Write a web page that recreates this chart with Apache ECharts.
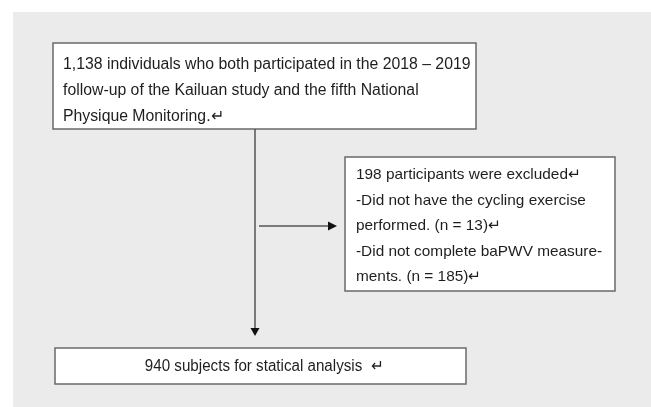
<!DOCTYPE html>
<html>
<head>
<meta charset="utf-8">
<script src="https://cdn.jsdelivr.net/npm/echarts@6/dist/echarts.min.js"></script>
<style>
html,body{margin:0;padding:0;background:#fff;}
#c{width:651px;height:407px;}
</style>
</head>
<body>
<div id="c"></div>
<script>
// Flowchart content
var topBoxLines = [
  "1,138 individuals who both participated in the 2018 – 2019",
  "follow-up of the Kailuan study and the fifth National",
  "Physique Monitoring.↵"
];
var excludedLines = [
  "198 participants were excluded↵",
  "-Did not have the cycling exercise",
  "performed. (n = 13)↵",
  "-Did not complete baPWV measure-",
  "ments. (n = 185)↵"
];
var finalLines = ["940 subjects for statical analysis  ↵"];

var chart = echarts.init(document.getElementById('c'), null, {renderer: 'canvas'});

var BORDER = '#6a6a6a', TXT = '#1e1e1e';
var fontA = '15.8px "Liberation Sans", Arial, sans-serif';
var fontB = '15px "Liberation Sans", Arial, sans-serif';

var els = [];
// panel
els.push({type:'rect', shape:{x:13, y:12, width:638, height:395}, style:{fill:'#ebebeb'}});

function box(x, y, w, h) {
  els.push({type:'rect', shape:{x:x, y:y, width:w, height:h},
    style:{fill:'#fff', stroke:BORDER, lineWidth:1.5}});
}
function lines(arr, x, y0, dy, font, sx, align) {
  arr.forEach(function(t, i) {
    els.push({type:'text', x:x, y:y0 + i*dy, scaleX:sx,
      style:{text:t, font:font, fill:TXT, align:align || 'left', verticalAlign:'middle'}});
  });
}

// top box
box(53, 43, 423, 86);
lines(topBoxLines, 63, 65, 26, fontA, 1);

// vertical arrow
els.push({type:'line', shape:{x1:255, y1:129, x2:255, y2:330}, style:{stroke:'#555', lineWidth:1.5}});
els.push({type:'polygon', shape:{points:[[250.5,328],[259.5,328],[255,336]]}, style:{fill:'#111'}});

// horizontal arrow
els.push({type:'line', shape:{x1:259, y1:226, x2:330, y2:226}, style:{stroke:'#555', lineWidth:1.5}});
els.push({type:'polygon', shape:{points:[[328,221.5],[328,230.5],[337,226]]}, style:{fill:'#111'}});

// exclusion box
box(345, 157, 270, 134);
lines(excludedLines, 356, 175, 25.5, fontB, 1.025);

// final box
box(55, 348, 411, 36);
lines(finalLines, 264, 367, 0, fontA, 0.96, 'center');

chart.setOption({
  animation:false,
  backgroundColor:'#fff',
  graphic:{elements:els}
});
</script>
</body>
</html>
